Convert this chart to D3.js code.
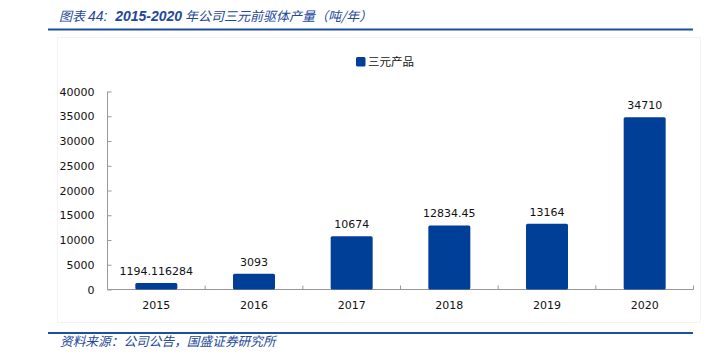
<!DOCTYPE html>
<html>
<head>
<meta charset="utf-8">
<script src="https://cdn.jsdelivr.net/npm/d3@7"></script>
<style>
  html, body { margin: 0; padding: 0; background: #fff; }
  svg { display: block; }
  text { white-space: pre; }
</style>
</head>
<body>
<svg id="chart" width="711" height="355"></svg>
<script>
const categories = ["2015", "2016", "2017", "2018", "2019", "2020"];
const values = [1194.116284, 3093, 10674, 12834.45, 13164, 34710];
const valueLabels = ["1194.116284", "3093", "10674", "12834.45", "13164", "34710"];
const yTicks = [0, 5000, 10000, 15000, 20000, 25000, 30000, 35000, 40000];
const seriesName = "三元产品";
const titleParts = ["图表 ", "44:  ", "2015-2020", " 年公司三元前驱体产量（吨/年）"];
const sourceText = "资料来源：公司公告，国盛证券研究所";

const svg = d3.select("#chart");
const barColor = "#003f98";
const lineBlue = "#1f4e9c";
const titleBlue = "#23479a";
const numFont = "'DejaVu Sans', Verdana, sans-serif";
const titleNumFont = "'Liberation Sans', Arial, sans-serif";
const cjkFont = "'Noto Sans CJK SC', sans-serif";

// faint chart area border
svg.append("rect").attr("x", 57.5).attr("y", 37.5).attr("width", 643).attr("height", 285)
  .attr("fill", "none").attr("stroke", "#f3f3f3").attr("stroke-width", 1);

// title
const title = svg.append("text").attr("x", 59).attr("y", 21)
  .attr("font-size", 13).attr("fill", titleBlue).attr("font-style", "italic")
  .attr("font-family", cjkFont).attr("xml:space", "preserve");
title.append("tspan").text(titleParts[0]);
title.append("tspan").attr("font-family", titleNumFont).attr("font-size", 14).text(titleParts[1]);
title.append("tspan").attr("font-family", titleNumFont).attr("font-size", 14).attr("font-weight", "bold").text(titleParts[2]);
title.append("tspan").text(titleParts[3]);

svg.append("line").attr("x1", 48).attr("x2", 693).attr("y1", 29.5).attr("y2", 29.5)
  .attr("stroke", lineBlue).attr("stroke-width", 2);

// footer
svg.append("line").attr("x1", 48).attr("x2", 693).attr("y1", 333).attr("y2", 333)
  .attr("stroke", lineBlue).attr("stroke-width", 2);
svg.append("text").attr("x", 60).attr("y", 346)
  .attr("font-size", 12.7).attr("fill", titleBlue).attr("font-style", "italic")
  .attr("font-family", cjkFont).text(sourceText);

// scales
const x = d3.scaleBand().domain(categories).range([107.5, 693.5]).paddingInner(0.57).paddingOuter(0.285);
const y = d3.scaleLinear().domain([0, 40000]).range([289.5, 91.5]);

// y axis
const yAxis = svg.append("g").attr("transform", "translate(107.5,0)")
  .call(d3.axisLeft(y).tickValues(yTicks).tickSize(-4).tickPadding(13).tickFormat(d3.format("d")));
yAxis.select(".domain").attr("stroke", "#999").attr("d", "M0," + y(40000) + "V" + y(0));
yAxis.selectAll(".tick line").attr("stroke", "#999");
yAxis.selectAll("text").attr("font-family", numFont).attr("font-size", 11).attr("fill", "#111");

// x axis
const xAxis = svg.append("g").attr("transform", "translate(0," + y(0) + ")")
  .call(d3.axisBottom(x).tickSize(0).tickPadding(12));
xAxis.select(".domain").attr("stroke", "#999").attr("d", "M107.5,0H693.5");
xAxis.selectAll("text").attr("font-family", numFont).attr("font-size", 11).attr("fill", "#111");
// category divider ticks (inside)
const dividers = d3.range(categories.length + 1).map(i => 107.5 + (693.5 - 107.5) * i / categories.length);
xAxis.selectAll(".div").data(dividers).enter().append("line")
  .attr("x1", d => d).attr("x2", d => d).attr("y1", 0).attr("y2", -4).attr("stroke", "#999");

// bars
svg.append("g").selectAll("rect").data(values).enter().append("rect")
  .attr("x", (d, i) => x(categories[i]))
  .attr("y", d => y(d) - 0.5)
  .attr("width", x.bandwidth())
  .attr("height", d => y(0) - y(d) + 0.5)
  .attr("rx", 1.5)
  .attr("fill", barColor);

// data labels
svg.append("g").selectAll("text").data(values).enter().append("text")
  .attr("x", (d, i) => x(categories[i]) + x.bandwidth() / 2)
  .attr("y", d => y(d) - 8.5)
  .attr("text-anchor", "middle")
  .attr("font-family", numFont).attr("font-size", 11).attr("fill", "#111")
  .text((d, i) => valueLabels[i]);

// legend
svg.append("rect").attr("x", 356).attr("y", 57).attr("width", 9.5).attr("height", 9.5)
  .attr("rx", 1.5).attr("fill", barColor);
svg.append("text").attr("x", 368).attr("y", 66).attr("font-size", 11.5)
  .attr("font-family", cjkFont).attr("fill", "#111").text(seriesName);
</script>
</body>
</html>
